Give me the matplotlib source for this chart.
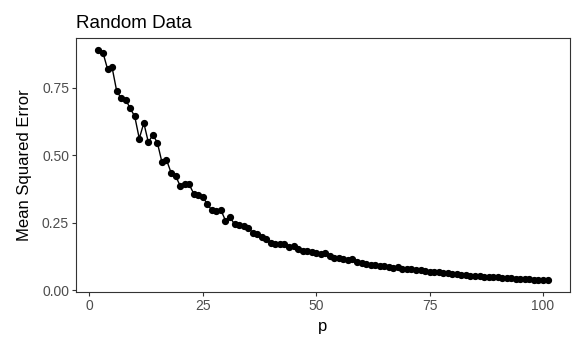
import numpy as np
import matplotlib
matplotlib.use("Agg")
import matplotlib.pyplot as plt

# p from 2 to 101, MSE
p = list(range(2, 102))
mse = [0.892, 0.880, 0.820, 0.826, 0.740, 0.711, 0.706, 0.674, 0.644, 0.562,
       0.620, 0.548, 0.576, 0.546, 0.474, 0.483, 0.436, 0.424, 0.387, 0.392,
       0.392, 0.358, 0.353, 0.346, 0.319, 0.296, 0.294, 0.297, 0.258, 0.271,
       0.244, 0.242, 0.238, 0.232, 0.213, 0.207, 0.197, 0.188, 0.176, 0.172,
       0.170, 0.172, 0.160, 0.164, 0.151, 0.147, 0.145, 0.141, 0.136, 0.133,
       0.139, 0.125, 0.121, 0.120, 0.116, 0.110, 0.116, 0.104, 0.100, 0.097,
       0.094, 0.093, 0.091, 0.088, 0.085, 0.083, 0.086, 0.080, 0.079, 0.077,
       0.075, 0.073, 0.071, 0.069, 0.068, 0.067, 0.064, 0.062, 0.061, 0.059,
       0.058, 0.056, 0.054, 0.052, 0.051, 0.050, 0.049, 0.048, 0.047, 0.046,
       0.045, 0.044, 0.043, 0.042, 0.041, 0.040, 0.039, 0.038, 0.037, 0.036]
xticks = [0, 25, 50, 75, 100]
yticks = [0.00, 0.25, 0.50, 0.75]

plt.rcParams['font.family'] = ['Liberation Sans', 'DejaVu Sans']

fig = plt.figure(figsize=(5.72, 3.37), dpi=100)
ax = fig.add_axes([76/572, 1 - 292/337, (570 - 76)/572, (292 - 38)/337])

ax.plot(p, mse, '-o', color='black', lw=1.0, markersize=4.2)

# ggplot style 5% expansion
xr = max(p) - min(p)
yr = max(mse) - min(mse)
ax.set_xlim(min(p) - 0.05*xr, max(p) + 0.05*xr)
ax.set_ylim(min(mse) - 0.05*yr, max(mse) + 0.05*yr)

ax.set_xticks(xticks)
ax.set_xticklabels([str(t) for t in xticks])
ax.set_yticks(yticks)
ax.set_yticklabels(['%.2f' % t for t in yticks])

for s in ['left', 'bottom', 'top', 'right']:
    ax.spines[s].set_color('#333333')
    ax.spines[s].set_linewidth(0.8)
ax.tick_params(axis='both', colors='#333333', length=3, width=0.8,
               labelsize=10, labelcolor='#4D4D4D', pad=2)

ax.set_xlabel('p', fontsize=12, labelpad=4)
ax.set_ylabel('Mean Squared Error', fontsize=12, labelpad=7)
ax.set_title('Random Data', fontsize=13.5, loc='left', pad=7)

fig.savefig('out.png', dpi=100)
